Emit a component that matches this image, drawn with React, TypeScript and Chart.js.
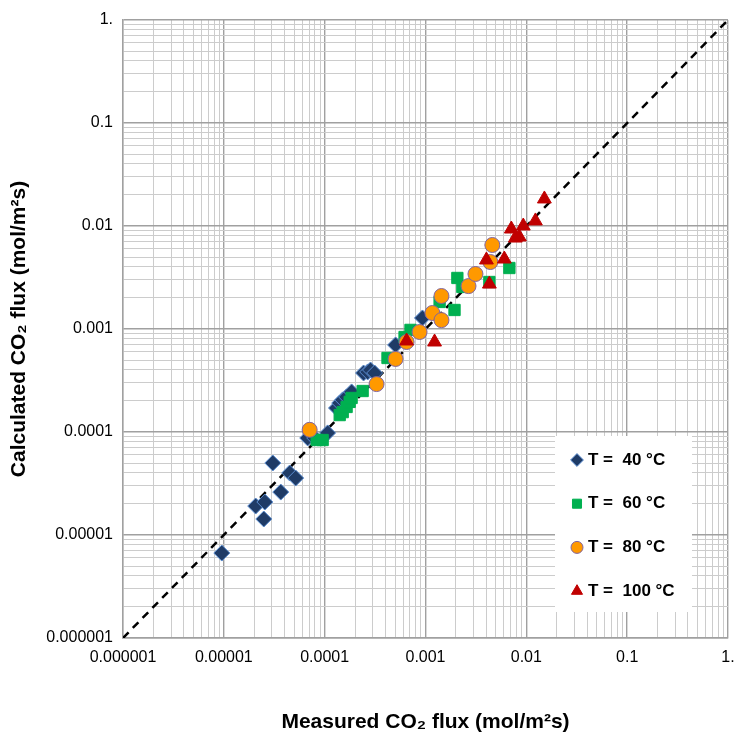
import React, { useEffect, useRef } from 'react';
import { Chart, registerables } from 'chart.js';

Chart.register(...registerables);

// Tick labels for the log axes (decades 1e-6 .. 1)
const decadeExps = [-6, -5, -4, -3, -2, -1, 0];
const tickLabels = ['0.000001', '0.00001', '0.0001', '0.001', '0.01', '0.1', '1.'];

// T = 40 °C
const t40X = [9.55e-6, 2.07e-5, 2.55e-5, 2.49e-5, 3.06e-5, 3.67e-5, 4.5e-5, 5.16e-5, 6.79e-5, 7.96e-5, 1.07e-4, 1.31e-4, 1.41e-4, 1.51e-4, 1.65e-4, 1.85e-4, 2.43e-4, 2.67e-4, 2.85e-4, 3.13e-4, 5.05e-4, 9.33e-4];
const t40Y = [6.68e-6, 1.91e-5, 2.09e-5, 1.43e-5, 5.0e-5, 2.61e-5, 4.0e-5, 3.57e-5, 8.75e-5, 8.75e-5, 9.8e-5, 1.71e-4, 1.91e-4, 2.05e-4, 2.19e-4, 2.45e-4, 3.74e-4, 3.83e-4, 4.0e-4, 3.74e-4, 7.0e-4, 1.28e-3];

// T = 60 °C
const t60X = [8.33e-5, 9.55e-5, 1.41e-4, 1.51e-4, 1.65e-4, 1.77e-4, 1.85e-4, 2.38e-4, 4.2e-4, 6.2e-4, 7.1e-4, 1.38e-3, 1.94e-3, 2.07e-3, 2.32e-3, 4.3e-3, 6.79e-3];
const t60Y = [8.36e-5, 8.36e-5, 1.46e-4, 1.56e-4, 1.75e-4, 1.96e-4, 2.14e-4, 2.5e-4, 5.23e-4, 8.36e-4, 9.8e-4, 1.83e-3, 1.53e-3, 3.13e-3, 2.56e-3, 2.86e-3, 3.91e-3];

// T = 80 °C
const t80X = [7.1e-5, 3.27e-4, 5.05e-4, 6.49e-4, 8.73e-4, 1.17e-3, 1.44e-3, 1.44e-3, 2.67e-3, 3.13e-3, 4.4e-3, 4.6e-3];
const t80Y = [1.05e-4, 2.92e-4, 5.12e-4, 7.48e-4, 9.35e-4, 1.43e-3, 1.22e-3, 2.09e-3, 2.61e-3, 3.42e-3, 4.47e-3, 6.54e-3];

// T = 100 °C
const t100X = [6.49e-4, 1.23e-3, 4.3e-3, 4.02e-3, 6.05e-3, 7.1e-3, 7.78e-3, 8.53e-3, 9.33e-3, 1.23e-2, 1.51e-2];
const t100Y = [7.65e-4, 7.48e-4, 2.73e-3, 4.68e-3, 4.78e-3, 9.35e-3, 7.64e-3, 7.82e-3, 1.0e-2, 1.12e-2, 1.83e-2];

// 1:1 line
const parityX = [1e-6, 1];
const parityY = [1e-6, 1];

const seriesLabels = ['T =  40 °C', 'T =  60 °C', 'T =  80 °C', 'T =  100 °C'];

const xTitle = 'Measured CO\u2082 flux (mol/m\u00B2s)';
const yTitle = 'Calculated CO\u2082 flux (mol/m\u00B2s)';

const FONT = '"Liberation Sans", Arial, sans-serif';

const zip = (xs: number[], ys: number[]) => xs.map((x, i) => ({ x, y: ys[i] }));

const isMajor = (v: number) => {
  const l = Math.log10(v);
  return Math.abs(l - Math.round(l)) < 1e-6;
};

const buildTicks = (scale: any) => {
  const ticks: any[] = [];
  for (let e = -6; e < 0; e++) {
    for (let s = 1; s < 10; s++) {
      ticks.push({ value: parseFloat((s * Math.pow(10, e)).toPrecision(6)) });
    }
  }
  ticks.push({ value: 1 });
  scale.ticks = ticks;
};

const tickCallback = (value: any) => {
  const v = Number(value);
  if (!isMajor(v)) return '';
  const idx = decadeExps.indexOf(Math.round(Math.log10(v)));
  return idx >= 0 ? tickLabels[idx] : '';
};

const gridColor = (ctx: any) => (ctx.tick && isMajor(ctx.tick.value) ? '#a0a0a0' : '#cccccc');
const gridWidth = (ctx: any) => (ctx.tick && isMajor(ctx.tick.value) ? 1.4 : 1);

const noPadding = (s: any) => {
  s.paddingLeft = 0;
  s.paddingRight = 0;
  s.paddingTop = 0;
  s.paddingBottom = 0;
};

type Marker = { style: string; fill: string; stroke: string; r: number };
const markers: Marker[] = [
  { style: 'rectRot', fill: '#1F3B66', stroke: '#5B8DD0', r: 8 },
  { style: 'rect', fill: '#00B050', stroke: '#00B050', r: 8 },
  { style: 'circle', fill: '#FF9900', stroke: '#8064A2', r: 7.5 },
  { style: 'triangle', fill: '#C00000', stroke: '#C00000', r: 8 },
];

function drawMarker(ctx: CanvasRenderingContext2D, m: Marker, x: number, y: number, scale = 1) {
  const r = m.r * scale;
  ctx.save();
  ctx.fillStyle = m.fill;
  ctx.strokeStyle = m.stroke;
  ctx.lineWidth = 1;
  ctx.beginPath();
  if (m.style === 'rectRot') {
    ctx.moveTo(x, y - r);
    ctx.lineTo(x + r, y);
    ctx.lineTo(x, y + r);
    ctx.lineTo(x - r, y);
    ctx.closePath();
  } else if (m.style === 'rect') {
    const h = r * Math.SQRT1_2;
    ctx.rect(x - h, y - h, 2 * h, 2 * h);
  } else if (m.style === 'circle') {
    ctx.arc(x, y, r, 0, Math.PI * 2);
  } else {
    ctx.moveTo(x, y - r);
    ctx.lineTo(x + r * Math.cos(Math.PI / 6), y + r * 0.5);
    ctx.lineTo(x - r * Math.cos(Math.PI / 6), y + r * 0.5);
    ctx.closePath();
  }
  ctx.fill();
  ctx.stroke();
  ctx.restore();
}

const legendPlugin = {
  id: 'boxLegend',
  afterDatasetsDraw(chart: any) {
    const ctx: CanvasRenderingContext2D = chart.ctx;
    const area = chart.chartArea;
    const boxW = 137;
    const boxH = 176;
    const bx = area.right - 36 - boxW;
    const by = area.bottom - 26 - boxH;
    ctx.save();
    ctx.fillStyle = '#ffffff';
    ctx.fillRect(bx, by, boxW, boxH);
    ctx.font = 'bold 17px ' + FONT;
    ctx.fillStyle = '#000000';
    ctx.textBaseline = 'middle';
    ctx.textAlign = 'left';
    seriesLabels.forEach((label, i) => {
      const cy = by + 24 + i * 43.7;
      drawMarker(ctx, markers[i], bx + 22, cy, 0.8);
      ctx.fillText(label, bx + 33, cy);
    });
    ctx.restore();
  },
};

export default function App() {
  const ref = useRef<HTMLCanvasElement | null>(null);

  useEffect(() => {
    if (!ref.current) return;
    const mk = (i: number, xs: number[], ys: number[], order: number) => ({
      label: seriesLabels[i],
      data: zip(xs, ys),
      pointStyle: markers[i].style,
      pointRadius: markers[i].r,
      pointBackgroundColor: markers[i].fill,
      pointBorderColor: markers[i].stroke,
      pointBorderWidth: 1,
      backgroundColor: markers[i].fill,
      borderColor: markers[i].stroke,
      showLine: false,
      order,
    });

    const chart = new Chart(ref.current, {
      type: 'scatter',
      data: {
        datasets: [
          mk(0, t40X, t40Y, 3),
          mk(1, t60X, t60Y, 2),
          mk(2, t80X, t80Y, 1),
          mk(3, t100X, t100Y, 0),
          {
            label: '1:1',
            data: zip(parityX, parityY),
            showLine: true,
            borderColor: '#000000',
            borderWidth: 2.5,
            borderDash: [8, 6],
            pointRadius: 0,
            fill: false,
            order: 4,
          } as any,
        ],
      },
      options: {
        responsive: false,
        animation: false,
        layout: { autoPadding: false, padding: { top: 20, right: 7, bottom: 0, left: 0 } },
        plugins: {
          legend: { display: false },
          tooltip: { enabled: false },
        },
        scales: {
          x: {
            type: 'logarithmic',
            min: 1e-6,
            max: 1,
            afterBuildTicks: buildTicks,
            afterFit: (s: any) => { s.height = 97; noPadding(s); },
            border: { display: true, color: '#a0a0a0', width: 1.4 },
            grid: { color: gridColor, lineWidth: gridWidth, drawTicks: false },
            ticks: {
              autoSkip: false,
              maxRotation: 0,
              padding: 10,
              color: '#000000',
              font: { family: FONT, size: 16 },
              callback: tickCallback,
            },
            title: {
              display: true,
              text: xTitle,
              color: '#000000',
              font: { family: FONT, size: 21, weight: 'bold' },
              padding: { top: 6, bottom: 0 },
            },
          },
          y: {
            type: 'logarithmic',
            min: 1e-6,
            max: 1,
            afterBuildTicks: buildTicks,
            afterFit: (s: any) => { s.width = 123; noPadding(s); },
            border: { display: true, color: '#a0a0a0', width: 1.4 },
            grid: { color: gridColor, lineWidth: gridWidth, drawTicks: false },
            ticks: {
              autoSkip: false,
              padding: 10,
              color: '#000000',
              font: { family: FONT, size: 16 },
              callback: tickCallback,
            },
            title: {
              display: true,
              text: yTitle,
              color: '#000000',
              font: { family: FONT, size: 21, weight: 'bold' },
              padding: { top: 7, bottom: 0 },
            },
          },
        },
      } as any,
      plugins: [legendPlugin],
    });
    return () => chart.destroy();
  }, []);

  return (
    <div style={{ position: 'fixed', left: 0, top: 0, width: 735, height: 735, background: '#ffffff' }}>
      <canvas ref={ref} width={735} height={735} />
    </div>
  );
}
